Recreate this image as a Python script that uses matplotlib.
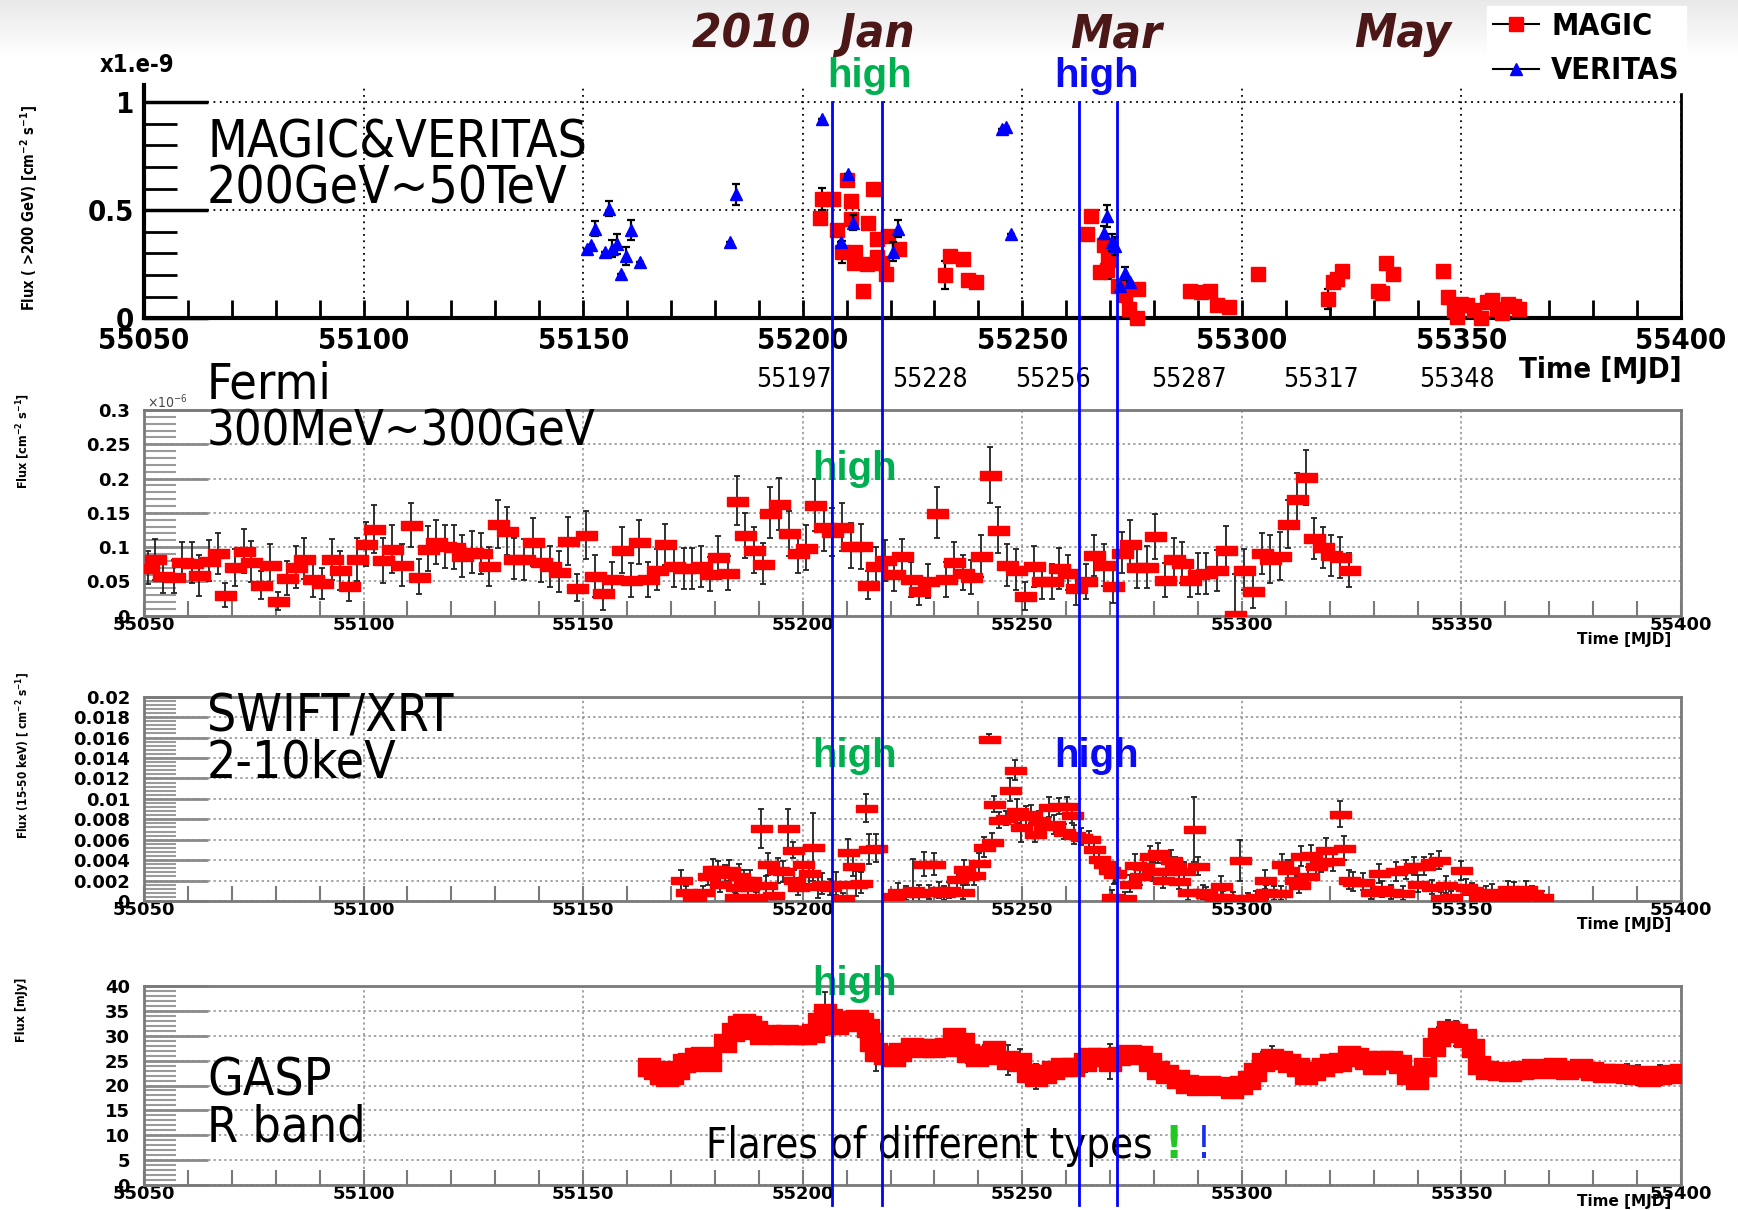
import numpy as np
import matplotlib
matplotlib.use("Agg")
import matplotlib.pyplot as plt
import matplotlib.transforms as mtransforms
from matplotlib import font_manager as fm
from matplotlib.lines import Line2D

# ---------------- data ----------------
# MAGIC / VERITAS  (x1e-9 cm-2 s-1, >200 GeV)
magic_mjd = [55204.0, 55204.3, 55206.8, 55207.9, 55208.9, 55210.0, 55211.0, 55211.0, 55211.7, 55212.0,
             55213.7, 55214.7, 55214.9, 55215.9, 55217.0, 55217.0, 55218.0, 55219.0, 55219.5, 55221.9,
             55232.5, 55233.6, 55236.5, 55237.6, 55239.5, 55264.7, 55265.6, 55267.7, 55268.6, 55269.2,
             55269.6, 55271.9, 55273.4, 55274.4, 55276.1, 55276.3, 55288.3, 55290.8, 55292.7, 55294.4,
             55297.1, 55303.7, 55319.6, 55320.8, 55321.7, 55322.8, 55331.1, 55331.8, 55332.8, 55334.5,
             55345.8, 55346.9, 55348.2, 55349.0, 55349.8, 55351.3, 55352.8, 55354.5, 55355.9, 55357.0,
             55358.2, 55359.3, 55360.5, 55362.0, 55363.1]
magic_flux = [0.466, 0.551, 0.551, 0.409, 0.308, 0.640, 0.543, 0.458, 0.255, 0.308,
              0.128, 0.251, 0.440, 0.597, 0.366, 0.282, 0.258, 0.205, 0.382, 0.323,
              0.200, 0.289, 0.274, 0.178, 0.169, 0.388, 0.474, 0.216, 0.339, 0.224,
              0.270, 0.148, 0.110, 0.042, 0.000, 0.137, 0.127, 0.121, 0.127, 0.062,
              0.054, 0.207, 0.089, 0.166, 0.183, 0.218, 0.127, 0.116, 0.258, 0.207,
              0.218, 0.100, 0.039, 0.008, 0.067, 0.061, 0.039, 0.000, 0.074, 0.085,
              0.045, 0.026, 0.066, 0.057, 0.042]
magic_err = [0.02, 0.05, 0.02, 0.02, 0.05, 0.02, 0.02, 0.02, 0.02, 0.02,
             0.02, 0.02, 0.02, 0.02, 0.02, 0.02, 0.02, 0.02, 0.02, 0.02,
             0.065, 0.02, 0.02, 0.02, 0.02, 0.02, 0.02, 0.02, 0.02, 0.02,
             0.09, 0.02, 0.02, 0.02, 0.02, 0.02, 0.02, 0.02, 0.02, 0.02,
             0.02, 0.02, 0.045, 0.02, 0.02, 0.02, 0.012, 0.02, 0.02, 0.02,
             0.02, 0.02, 0.02, 0.02, 0.02, 0.02, 0.02, 0.02, 0.02, 0.02,
             0.02, 0.02, 0.02, 0.02, 0.02]

ver_mjd = [55150.8, 55151.8, 55152.8, 55154.9, 55156.0, 55156.6, 55157.7, 55158.7, 55159.8, 55160.9,
           55163.0, 55183.5, 55184.7, 55204.5, 55208.7, 55210.4, 55211.5, 55220.6, 55221.7, 55245.3,
           55246.4, 55247.4, 55268.7, 55269.2, 55270.5, 55271.1, 55272.3, 55273.4, 55274.6]
ver_flux = [0.323, 0.338, 0.415, 0.308, 0.508, 0.323, 0.343, 0.205, 0.289, 0.409,
            0.262, 0.354, 0.574, 0.923, 0.354, 0.666, 0.443, 0.308, 0.415, 0.874,
            0.886, 0.389, 0.397, 0.474, 0.351, 0.335, 0.151, 0.209, 0.166]
ver_err = [0.0, 0.0, 0.035, 0.0, 0.035, 0.04, 0.045, 0.0, 0.04, 0.045,
           0.0, 0.0, 0.05, 0.0, 0.0, 0.0, 0.035, 0.045, 0.04, 0.0,
           0.0, 0.0, 0.03, 0.05, 0.04, 0.04, 0.0, 0.03, 0.0]

# Fermi LAT (x1e-6 cm-2 s-1)
fermi_mjd = [55050.8, 55052.6, 55054.3, 55056.9, 55058.6, 55060.9, 55062.6, 55064.8, 55066.8, 55068.5,
             55070.7, 55072.7, 55074.4, 55076.6, 55078.6, 55080.5, 55082.5, 55084.6, 55086.4, 55088.4,
             55090.6, 55092.7, 55094.6, 55096.7, 55098.6, 55100.6, 55102.4, 55104.5, 55106.5, 55108.7,
             55110.7, 55112.6, 55114.6, 55116.6, 55118.5, 55120.5, 55122.5, 55124.7, 55126.8, 55128.6,
             55130.7, 55132.6, 55134.3, 55136.5, 55138.6, 55140.4, 55142.4, 55144.4, 55146.5, 55148.7,
             55150.7, 55152.6, 55154.6, 55156.6, 55158.8, 55160.9, 55162.7, 55164.8, 55166.8, 55168.7,
             55170.7, 55172.9, 55174.9, 55176.9, 55178.8, 55180.8, 55182.9, 55185.0, 55186.8, 55188.9,
             55191.0, 55192.6, 55194.7, 55196.8, 55198.9, 55200.8, 55202.8, 55204.8, 55206.7, 55209.0,
             55211.0, 55213.3, 55214.9, 55216.8, 55218.8, 55220.8,
             55222.5, 55224.6, 55226.4, 55228.5, 55230.6, 55232.6, 55234.5, 55236.5, 55238.4, 55240.6,
             55242.6, 55244.5, 55246.5, 55248.5, 55250.6, 55252.6, 55254.5, 55256.7, 55258.4, 55260.3,
             55262.3, 55264.6, 55266.4, 55268.5, 55270.6, 55272.6, 55274.5, 55276.2, 55278.4, 55280.3,
             55282.6, 55284.5, 55286.4, 55288.3, 55290.0, 55291.9, 55294.3, 55296.5, 55298.4, 55300.6,
             55302.5, 55304.6, 55306.4, 55308.7, 55310.4, 55312.6, 55314.5, 55316.5, 55318.4, 55320.3,
             55322.4, 55324.5]
fermi_flux = [.070, .082, .058, .057, .079, .077, .059, .080, .091, .030,
              .071, .095, .079, .045, .074, .022, .055, .071, .083, .053,
              .047, .082, .066, .043, .082, .104, .127, .081, .097, .074,
              .132, .057, .098, .108, .101, .100, .087, .093, .091, .072,
              .134, .124, .083, .082, .108, .079, .072, .064, .109, .041,
              .117, .058, .033, .054, .096, .052, .108, .053, .067, .104,
              .072, .069, .069, .072, .061, .086, .062, .168, .117, .096,
              .076, .150, .163, .120, .092, .099, .161, .130, .122, .130,
              .102, .101, .045, .072, .081, .061,
              .087, .053, .036, .051, .150, .053, .078, .063, .056, .087,
              .205, .125, .074, .067, .029, .072, .050, .050, .069, .063,
              .040, .050, .088, .074, .043, .092, .104, .071, .071, .116,
              .052, .083, .077, .052, .061, .062, .066, .096, .001, .067,
              .036, .091, .082, .087, .134, .170, .202, .113, .100, .088,
              .085, .067]
fermi_err = [.024, .030, .025, .024, .028, .030, .030, .030, .030, .018,
             .027, .032, .030, .020, .030, .013, .025, .030, .030, .025,
             .022, .030, .028, .022, .032, .032, .035, .033, .035, .030,
             .032, .025, .033, .032, .032, .032, .030, .030, .030, .028,
             .035, .035, .030, .030, .035, .030, .030, .030, .035, .020,
             .035, .030, .025, .025, .033, .025, .032, .025, .030, .030,
             .030, .030, .030, .030, .025, .030, .025, .036, .033, .033,
             .030, .037, .038, .033, .030, .033, .038, .035, .035, .035,
             .033, .033, .020, .028, .030, .025,
             .025, .025, .020, .025, .037, .025, .030, .025, .025, .030,
             .041, .034, .030, .030, .020, .030, .025, .025, .030, .025,
             .025, .025, .030, .030, .025, .030, .035, .030, .030, .033,
             .025, .030, .030, .025, .030, .030, .030, .035, .060, .030,
             .025, .030, .035, .035, .035, .038, .040, .030, .030, .030,
             .030, .025]

# Swift XRT
swift_mjd = [55172.3, 55173.5, 55175.0, 55175.4, 55177.3, 55178.4, 55179.5, 55180.7, 55181.1, 55182.2,
             55183.3, 55184.5, 55184.8, 55185.6, 55186.7, 55187.5, 55187.9, 55189.4, 55190.5, 55191.7,
             55192.0, 55193.2, 55194.3, 55195.6, 55196.6, 55197.7, 55198.1, 55198.9, 55200.0, 55201.5,
             55202.4, 55203.4, 55204.5, 55206.1, 55207.6, 55209.1, 55210.2, 55211.4, 55212.1, 55213.3,
             55214.4, 55215.0, 55216.7, 55220.5, 55221.6, 55223.5, 55225.0, 55226.5, 55227.7, 55228.8,
             55229.9, 55231.1, 55232.2, 55233.3, 55235.2, 55236.4, 55236.7, 55237.5, 55239.0, 55240.2,
             55241.3, 55242.4, 55243.2, 55243.6, 55244.7, 55246.2, 55247.3, 55248.3, 55248.9, 55249.6,
             55250.8, 55251.9, 55253.0, 55253.8, 55254.9, 55256.1, 55257.2, 55258.3, 55259.5, 55260.2,
             55261.4, 55261.7, 55263.3, 55265.2, 55266.3, 55267.4, 55268.6, 55269.7, 55270.5, 55270.8,
             55271.1, 55273.3, 55274.5, 55275.6, 55276.7, 55277.5, 55279.0, 55279.8, 55280.9, 55282.0,
             55282.8, 55283.9, 55284.7, 55285.8, 55286.9, 55287.7, 55289.2, 55290.0, 55291.1, 55291.9,
             55293.8, 55295.3, 55295.7, 55297.9, 55299.5, 55301.4, 55303.3, 55305.2, 55305.5, 55307.4,
             55308.9, 55309.2, 55310.5, 55312.0, 55313.1, 55313.5, 55315.0, 55315.8, 55316.9, 55318.0,
             55319.2, 55320.7, 55322.3, 55323.3, 55324.5, 55325.2, 55327.5, 55329.4, 55331.3, 55332.0,
             55334.0, 55335.1, 55336.6, 55337.3, 55339.2, 55340.0, 55341.5, 55343.0, 55343.4, 55344.9,
             55345.3, 55346.4, 55347.6, 55349.8, 55351.0, 55352.5, 55354.0, 55355.5, 55357.0, 55358.6,
             55360.5, 55362.0, 55363.1, 55364.6, 55366.1, 55368.4]
swift_flux = [.00206, .0009, .0004, .0003, .0009, .0024, .0031, .0031, .0017, .0026,
              .0030, .0004, .0014, .0024, .0021, .0014, .0021, .0004, .0071, .0016,
              .0036, .0006, .0030, .0029, .0071, .0050, .0021, .0014, .0036, .0027,
              .0053, .0015, .0017, .0014, .0017, .0003, .0048, .0034, .0017, .0018,
              .0091, .0051, .0052, .0005, .0009, .0008, .0011, .0008, .0036, .0009,
              .0036, .0011, .0008, .0011, .0022, .0009, .0031, .0024, .0025, .0037,
              .0053, .0159, .0058, .0095, .0079, .0081, .0109, .0128, .0088, .0072,
              .0083, .0085, .0066, .0079, .0073, .0092, .0075, .0093, .0068, .0093,
              .0084, .0065, .0063, .0061, .0051, .0041, .0036, .0030, .0004, .0026,
              .0027, .0003, .0017, .0035, .0024, .0034, .0044, .0029, .0047, .0021,
              .0029, .0040, .0034, .0020, .0029, .0009, .0070, .0034, .0009, .0007,
              .0004, .0015, .0004, .0003, .0040, .0003, .0004, .0021, .0009, .0008,
              .0008, .0036, .0030, .0021, .0016, .0044, .0024, .0045, .0034, .0038,
              .0050, .0039, .0085, .0052, .0021, .0019, .0019, .0009, .0027, .0012,
              .0009, .0029, .0008, .0031, .0034, .0017, .0034, .0038, .0014, .0040,
              .0003, .0016, .0004, .0030, .0014, .0011, .0004, .0008, .0009, .0004,
              .0012, .0011, .0004, .0012, .0008, .0004]
swift_err = [.0010, .0006, .0005, .0005, .0006, .0008, .0010, .0008, .0008, .0009,
             .0010, .0005, .0007, .0012, .0009, .0008, .0009, .0005, .0019, .0008,
             .0011, .0006, .0012, .0010, .0019, .0008, .0009, .0008, .0014, .0010,
             .0033, .0012, .0010, .0008, .0011, .0005, .0013, .0010, .0012, .0010,
             .0014, .0015, .0014, .0006, .0009, .0007, .0030, .0008, .0012, .0007,
             .0011, .0008, .0007, .0008, .0009, .0007, .0009, .0008, .0009, .0010,
             .0010, .0004, .0009, .0008, .0008, .0007, .0011, .0010, .0012, .0014,
             .0010, .0009, .0008, .0009, .0008, .0010, .0009, .0008, .0007, .0009,
             .0008, .0009, .0008, .0008, .0008, .0007, .0007, .0007, .0007, .0009,
             .0009, .0006, .0008, .0011, .0008, .0009, .0010, .0009, .0010, .0008,
             .0009, .0010, .0009, .0008, .0009, .0008, .0032, .0009, .0007, .0007,
             .0006, .0009, .0006, .0006, .0020, .0005, .0006, .0009, .0007, .0007,
             .0007, .0010, .0010, .0009, .0008, .0010, .0009, .0010, .0010, .0010,
             .0012, .0010, .0013, .0012, .0009, .0009, .0008, .0007, .0009, .0008,
             .0007, .0009, .0007, .0009, .0009, .0008, .0009, .0008, .0007, .0009,
             .0006, .0008, .0006, .0009, .0008, .0007, .0006, .0007, .0008, .0006,
             .0008, .0008, .0006, .0008, .0007, .0006]

# GASP R band (mJy)
gasp_mjd = [55165.1, 55166.4, 55167.7, 55169.0, 55170.3, 55171.6, 55172.9, 55174.2, 55175.6, 55177.1,
            55178.8, 55182.4, 55184.1, 55185.4, 55186.7, 55188.0, 55189.3, 55190.6, 55192.6, 55194.6,
            55196.5, 55198.5, 55200.5, 55202.4, 55203.7, 55205.0, 55206.4, 55207.7, 55209.0, 55210.7,
            55212.3, 55213.6, 55214.9, 55215.6, 55216.8, 55218.8, 55220.8,
            55222.2, 55224.8, 55227.4, 55230.0, 55232.6, 55234.5, 55236.4, 55237.7, 55239.7, 55241.6,
            55243.5, 55246.8, 55249.4, 55251.3, 55253.2, 55255.2, 55257.1, 55259.0, 55261.6, 55264.2,
            55265.5, 55267.4, 55270.0, 55272.0, 55274.5, 55277.1, 55279.1, 55281.0, 55282.9, 55285.5,
            55287.5, 55290.1, 55292.6, 55295.2, 55297.8, 55299.7, 55301.7, 55303.0, 55304.9, 55306.8,
            55308.8, 55310.7, 55312.7, 55314.6, 55316.5, 55318.5, 55320.4, 55322.4, 55324.3, 55326.2,
            55328.2, 55330.1, 55332.0, 55334.0, 55335.9, 55337.9, 55339.8, 55341.7, 55343.7, 55345.0,
            55346.9, 55348.8, 55350.8, 55352.7, 55354.0, 55355.9, 55358.5, 55361.1, 55363.7, 55366.3,
            55368.9, 55371.4, 55374.0, 55377.3, 55379.8, 55382.4, 55385.0, 55387.6, 55390.2, 55392.8,
            55395.3, 55397.9, 55399.9]
gasp_flux = [23.8, 23.1, 22.1, 21.8, 22.1, 23.1, 24.5, 24.8, 25.7, 25.9,
             24.8, 28.5, 30.8, 32.2, 32.6, 32.2, 31.2, 30.2, 30.4, 30.2,
             30.4, 30.2, 30.2, 30.5, 32.8, 34.5, 33.5, 32.2, 32.8, 33.2,
             33.3, 32.8, 31.5, 28.8, 26.8, 26.1, 25.8,
             26.8, 27.8, 27.5, 27.5, 27.8, 29.7, 28.8, 26.5, 25.8, 26.1,
             27.1, 25.1, 24.8, 22.5, 21.8, 22.3, 23.1, 23.7, 23.7, 24.8,
             25.8, 25.7, 24.8, 25.9, 26.3, 26.1, 24.8, 23.1, 22.3, 21.4,
             20.4, 19.9, 20.1, 19.8, 19.2, 20.1, 21.1, 22.8, 24.8, 25.5,
             25.1, 24.6, 23.8, 22.1, 23.0, 23.8, 24.5, 24.8, 26.1, 25.7,
             25.1, 24.1, 25.1, 25.1, 24.3, 22.1, 21.1, 23.8, 27.8, 29.8,
             31.2, 30.5, 29.5, 27.5, 24.1, 23.1, 23.0, 22.8, 23.1, 23.5,
             23.3, 23.8, 23.1, 23.5, 23.0, 22.5, 22.5, 22.3, 22.1, 21.8,
             22.1, 22.3, 22.5]
gasp_err = [1.0, 1.0, 1.0, 1.0, 1.0, 1.0, 1.0, 1.0, 1.0, 1.0,
            1.0, 1.2, 1.2, 1.0, 1.0, 1.0, 1.0, 1.0, 1.0, 1.2,
            1.0, 1.0, 1.0, 1.0, 1.5, 4.3, 1.5, 1.5, 1.8, 1.0,
            1.0, 1.5, 1.5, 1.5, 3.8, 1.5, 1.5,
            1.5, 1.2, 1.2, 1.2, 1.5, 1.5, 2.0, 2.0, 1.5, 2.0,
            1.5, 3.0, 2.5, 1.8, 2.5, 2.0, 1.5, 1.5, 1.5, 2.0,
            1.5, 1.5, 3.5, 1.5, 1.5, 1.5, 2.0, 1.5, 1.5, 1.5,
            1.5, 1.5, 1.5, 1.5, 1.5, 1.5, 1.5, 2.0, 2.0, 2.5,
            2.0, 1.5, 1.5, 1.5, 1.5, 1.8, 1.5, 1.5, 1.0, 1.5,
            1.5, 1.5, 1.5, 1.5, 1.5, 1.8, 1.8, 1.5, 2.0, 2.0,
            2.0, 2.5, 2.5, 1.5, 1.5, 1.0, 1.5, 1.5, 1.5, 1.5,
            1.0, 1.0, 1.0, 1.0, 1.5, 1.5, 1.5, 2.0, 2.0, 2.0,
            2.0, 1.5, 1.0]

# flare markers, month starts
flare_lines = [55206.7, 55218.1, 55263.0, 55271.6]
month_mjd = [55197, 55228, 55256, 55287, 55317, 55348]
month_lbl = ["55197", "55228", "55256", "55287", "55317", "55348"]

x_ticks = [55050, 55100, 55150, 55200, 55250, 55300, 55350, 55400]
x_tick_lbl = ["55050", "55100", "55150", "55200", "55250", "55300", "55350", "55400"]
vhe_yticks = [0, 0.5, 1]
vhe_ytick_lbl = ["0", "0.5", "1"]
fermi_yticks = [0, 0.05, 0.1, 0.15, 0.2, 0.25, 0.3]
fermi_ytick_lbl = ["0", "0.05", "0.1", "0.15", "0.2", "0.25", "0.3"]
swift_yticks = [0, 0.002, 0.004, 0.006, 0.008, 0.01, 0.012, 0.014, 0.016, 0.018, 0.02]
swift_ytick_lbl = ["0", "0.002", "0.004", "0.006", "0.008", "0.01", "0.012", "0.014", "0.016", "0.018", "0.02"]
gasp_yticks = [0, 5, 10, 15, 20, 25, 30, 35, 40]
gasp_ytick_lbl = ["0", "5", "10", "15", "20", "25", "30", "35", "40"]

# ---------------- fonts ----------------
def has_font(name):
    try:
        fm.findfont(fm.FontProperties(family=name), fallback_to_default=False)
        return True
    except Exception:
        return False

if has_font("Liberation Sans Narrow"):
    NARROW = dict(family="Liberation Sans Narrow")
else:
    NARROW = dict(family="DejaVu Sans", stretch="condensed")

def nfont(size, weight="normal", style="normal"):
    return fm.FontProperties(size=size, weight=weight, style=style, **NARROW)

plt.rcParams["mathtext.default"] = "regular"

W, H = 1738, 1210
fig = plt.figure(figsize=(W / 100, H / 100), dpi=100)
fig.patch.set_facecolor("white")

def ptext(x, y, s, **kw):
    return fig.text(x / W, 1 - y / H, s, **kw)

def panel(top, bottom):
    return fig.add_axes([144 / W, 1 - bottom / H, (1681 - 144) / W, (bottom - top) / H])

# light slide gradient on top
ax_bg = fig.add_axes([0, 1 - 60 / H, 1, 60 / H], zorder=-10)
ax_bg.imshow(np.linspace(0.91, 1.0, 60)[:, None], cmap="gray", vmin=0, vmax=1, aspect="auto")
ax_bg.axis("off")

def rect(w, h):
    return [(-w / 2, -h / 2), (w / 2, -h / 2), (w / 2, h / 2), (-w / 2, h / 2), (-w / 2, -h / 2)]

# ---------------- panel 1 : MAGIC & VERITAS ----------------
ax1 = panel(85, 318.3)
ax1.set_xlim(55050, 55400)
ax1.set_ylim(0, 1.08)
em = ax1.errorbar(magic_mjd, magic_flux, yerr=magic_err, fmt="s", ms=10, mfc="red", mec="red",
                  ecolor="black", elinewidth=1.6, capsize=3, capthick=1.6, zorder=3)
ev = ax1.errorbar(ver_mjd, ver_flux, yerr=ver_err, fmt="^", ms=9, mfc="blue", mec="blue",
                  ecolor="black", elinewidth=1.6, capsize=3, capthick=1.6, zorder=4)
for c in (em, ev):
    for a in c.get_children():
        a.set_clip_on(False)
ax1.spines["top"].set_visible(False)
ax1.spines["left"].set_linewidth(3)
ax1.spines["bottom"].set_linewidth(3)
ax1.spines["right"].set_linewidth(2)
ax1.set_xticks(x_ticks, x_tick_lbl, fontproperties=nfont(21, "bold"))
ax1.set_xticks(np.arange(55060, 55400, 10), minor=True)
ax1.set_yticks(vhe_yticks, vhe_ytick_lbl, fontproperties=nfont(21, "bold"))
ax1.set_yticks(np.arange(0.1, 1.0, 0.1), minor=True)
ax1.tick_params(axis="x", which="both", direction="in", length=13, width=2, pad=6)
ax1.tick_params(axis="y", which="major", direction="in", length=46, width=2.5, pad=7)
ax1.tick_params(axis="y", which="minor", direction="in", length=24, width=2)
ax1.grid(True, which="major", color="black", linestyle=(0, (1, 2.5)), linewidth=1.3)
ax1.set_axisbelow(True)

ptext(100, 72, "x1.e-9", fontproperties=nfont(17, "bold"), va="baseline")
ptext(29, 208, "Flux ( >200 GeV) [cm$^{-2}$ s$^{-1}$]", fontproperties=nfont(10.5, "bold"),
      rotation=90, ha="center", va="center")
ptext(1682, 370, "Time [MJD]", fontproperties=nfont(21, "bold"), ha="right", va="center")
ptext(207, 157, "MAGIC&VERITAS", fontproperties=nfont(37), va="baseline")
ptext(207, 203, "200GeV~50TeV", fontproperties=nfont(37), va="baseline")

tr1 = mtransforms.blended_transform_factory(ax1.transData, fig.transFigure)
for m, lab in zip(month_mjd, month_lbl):
    fig.text(m + 1, 1 - 380 / H, lab, transform=tr1, fontproperties=nfont(19), ha="center", va="center")

# ---------------- ROOT style lower panels ----------------
def root_panel(ax, yticks, ylabels, yminor, ymax):
    ax.set_xlim(55050, 55400)
    ax.set_ylim(0, ymax)
    for s in ax.spines.values():
        s.set_color("#7a7a7a")
        s.set_linewidth(2)
    tfp = fm.FontProperties(family="DejaVu Sans", weight="bold", size=13)
    ax.set_xticks(x_ticks, x_tick_lbl, fontproperties=tfp)
    ax.set_xticks(np.arange(55060, 55400, 10), minor=True)
    ax.set_yticks(yticks, ylabels, fontproperties=tfp)
    ax.set_yticks(yminor, minor=True)
    ax.tick_params(axis="x", which="both", direction="in", length=11, width=1.5, color="#7a7a7a", pad=0)
    ax.tick_params(axis="y", which="major", direction="in", length=46, width=2, color="#8a8a8a", pad=10)
    ax.tick_params(axis="y", which="minor", direction="in", length=23, width=1.5, color="#9a9a9a")
    ax.grid(True, which="major", color="#8a8a8a", linestyle=(0, (1.5, 2)), linewidth=1.1)
    ax.set_axisbelow(True)

def red_bars(ax, x, y, e, w, h):
    ax.errorbar(x, y, yerr=e, fmt="none", ecolor="#222222", elinewidth=1.3, capsize=2.5,
                capthick=1.3, zorder=2)
    ax.plot(x, y, linestyle="none", marker=rect(w, h), ms=w * 0.72, mfc="red", mec="red", zorder=3)

ax2 = panel(410, 615.7)
root_panel(ax2, fermi_yticks, fermi_ytick_lbl, np.arange(0.01, 0.3, 0.01), 0.3)
red_bars(ax2, fermi_mjd, fermi_flux, fermi_err, 21, 9)

ax3 = panel(696.7, 901)
root_panel(ax3, swift_yticks, swift_ytick_lbl, np.arange(0.0004, 0.02, 0.0004), 0.02)
red_bars(ax3, swift_mjd, swift_flux, swift_err, 21, 7)

ax4 = panel(986, 1185)
root_panel(ax4, gasp_yticks, gasp_ytick_lbl, np.arange(1, 40, 1), 40)
red_bars(ax4, gasp_mjd, gasp_flux, gasp_err, 22, 18)

tfb = fm.FontProperties(family="DejaVu Sans", weight="bold", size=11)
for top in (632, 917, 1194):
    ptext(1671, top, "Time [MJD]", fontproperties=tfb, ha="right", va="top")
ptext(147, 408, r"$\times$10$^{-6}$", fontproperties=nfont(10), color="#444444", va="baseline")
ptext(23, 441, "Flux [cm$^{-2}$ s$^{-1}$]", fontproperties=nfont(9, "bold"), rotation=90,
      ha="center", va="center")
ptext(23, 755, "Flux (15-50 keV) [ cm$^{-2}$ s$^{-1}$]", fontproperties=nfont(8.5, "bold"),
      rotation=90, ha="center", va="center")
ptext(21, 1010, "Flux [mJy]", fontproperties=nfont(9, "bold"), rotation=90, ha="center", va="center")

ptext(207, 398, "Fermi", fontproperties=nfont(36), va="baseline")
ptext(207, 445, "300MeV~300GeV", fontproperties=nfont(35), va="baseline")
ptext(207, 732, "SWIFT/XRT", fontproperties=nfont(37), va="baseline")
ptext(207, 777, "2-10keV", fontproperties=nfont(37), va="baseline")
ptext(207, 1095, "GASP", fontproperties=nfont(37), va="baseline")
ptext(207, 1141, "R band", fontproperties=nfont(36), va="baseline")
t_fl = ptext(706, 1158, "Flares of different types", fontproperties=nfont(30), va="baseline")

# the two exclamation marks follow the sentence
fig.canvas.draw()
x_end = t_fl.get_window_extent(fig.canvas.get_renderer()).x1
ptext(x_end + 12, 1158, "!", fontproperties=nfont(32, "bold"), color="#22c722", va="baseline")
ptext(x_end + 43, 1158, "!", fontproperties=nfont(32), color="#1a2cf0", va="baseline")

# ---------------- titles, "high" labels ----------------
brown = "#4b1717"
ptext(692, 47, "2010  Jan", fontproperties=nfont(34, "bold", "italic"), color=brown, va="baseline")
ptext(1070, 47, "Mar", fontproperties=nfont(34, "bold", "italic"), color=brown, va="baseline")
ptext(1354, 47, "May", fontproperties=nfont(34, "bold", "italic"), color=brown, va="baseline")

hfp = fm.FontProperties(family="Liberation Sans", weight="bold", size=29)
green, blue = "#00b050", "#0a0af5"
for x, y, c in [(827, 87, green), (1054, 87, blue), (812, 480, green),
                (812, 767, green), (1054, 767, blue), (812, 995, green)]:
    ptext(x, y, "high", fontproperties=hfp, color=c, va="baseline")

# flare lines through all panels
for m in flare_lines:
    fig.add_artist(Line2D([m, m], [1 - 102 / H, 1 - 1205 / H], transform=tr1, color="#0000ff",
                          linewidth=2, zorder=5))

# legend
h_magic = Line2D([], [], color="black", lw=1.5, marker="s", ms=10, mfc="red", mec="red")
h_ver = Line2D([], [], color="black", lw=1.5, marker="^", ms=9, mfc="blue", mec="blue")
fig.legend([h_magic, h_ver], ["MAGIC", "VERITAS"], loc="upper left",
           bbox_to_anchor=(1487 / W, 1 - 6 / H), frameon=True, fancybox=False, framealpha=1,
           facecolor="white", edgecolor="white", prop=nfont(22, "bold"), handlelength=1.5,
           handletextpad=0.4, labelspacing=0.5, borderpad=0.2, borderaxespad=0)

fig.savefig("out.png", dpi=100)
